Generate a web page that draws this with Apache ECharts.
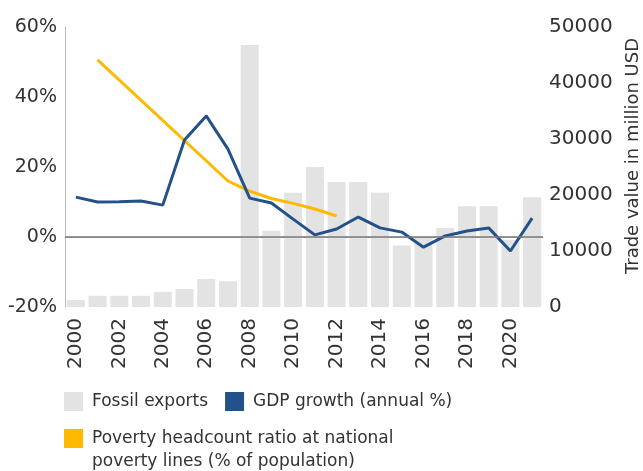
<!DOCTYPE html>
<html><head><meta charset="utf-8">
<script src="https://cdn.jsdelivr.net/npm/echarts@6/dist/echarts.min.js"></script>
<style>html,body{margin:0;padding:0;background:#fff}#c{width:643px;height:471px}</style>
</head><body><div id="c"></div>
<script>
const years = ['2000','2001','2002','2003','2004','2005','2006','2007','2008','2009','2010','2011','2012','2013','2014','2015','2016','2017','2018','2019','2020','2021'];
const fossilExports = [1250,2000,2000,2000,2700,3200,5000,4600,46800,13600,20400,25000,22300,22300,20400,11000,12300,14100,18000,18000,12000,19600];
const gdpGrowth = [11.4,10.0,10.1,10.3,9.1,27.7,34.6,25.1,11.1,9.7,5.1,0.6,2.3,5.7,2.6,1.4,-2.9,0.3,1.7,2.6,-4.0,5.4];
const poverty = [null,50.6,null,null,null,null,null,16.0,13.1,11.0,9.6,8.0,6.0,null,null,null,null,null,null,null,null,null];
const leftTicks = {min:-20,max:60,interval:20};
const rightTicks = {min:0,max:50000,interval:10000};
const names = ['Fossil exports','GDP growth (annual %)','Poverty headcount ratio at national'];
const povertyLine2 = 'poverty lines (% of population)';

const chart = echarts.init(document.getElementById('c'));
const font = "'DejaVu Sans',sans-serif";
const txt = '#333';
chart.setOption({
  animation:false,
  grid:{left:65,right:100,top:27,bottom:164,containLabel:false,outerBoundsMode:'none'},
  legend:[
    {data:[names[0],names[1]],left:64,top:392,padding:0,itemWidth:19,itemHeight:19,itemGap:17,icon:'rect',
     textStyle:{fontFamily:font,fontSize:17,color:txt,padding:[0,0,0,4]}},
    {data:[names[2]],left:64,top:429,padding:0,itemWidth:19,itemHeight:19,icon:'rect',
     textStyle:{fontFamily:font,fontSize:17,color:txt,padding:[0,0,0,4]}}
  ],
  graphic:[{type:'text',left:92,top:453,style:{text:povertyLine2,fontFamily:font,fontSize:17,fill:txt}}],
  xAxis:{type:'category',data:years,
    axisLine:{lineStyle:{color:'#bbb',width:1}},axisTick:{show:false},
    axisLabel:{rotate:90,interval:1,fontFamily:font,fontSize:20,color:txt,margin:11}},
  yAxis:[
    {type:'value',min:leftTicks.min,max:leftTicks.max,interval:leftTicks.interval,
     axisLine:{show:true,lineStyle:{color:'#bbb'}},axisTick:{show:false},splitLine:{show:false},
     axisLabel:{formatter:'{value}%',fontFamily:font,fontSize:19,color:txt,margin:8}},
    {type:'value',min:rightTicks.min,max:rightTicks.max,interval:rightTicks.interval,position:'right',
     axisLine:{show:false},axisTick:{show:false},splitLine:{show:false},
     name:'Trade value in million USD',nameLocation:'middle',nameGap:81,nameRotate:90,
     nameTextStyle:{fontFamily:font,fontSize:18,color:txt,padding:[0,0,0,22]},
     axisLabel:{formatter:function(v){return String(v);},fontFamily:font,fontSize:20,color:txt,margin:6}}
  ],
  series:[
    {name:names[0],type:'bar',yAxisIndex:1,data:fossilExports,barCategoryGap:'17%',
     itemStyle:{color:'#e3e3e3'}},
    {name:names[1],type:'line',yAxisIndex:0,data:gdpGrowth,showSymbol:false,symbol:'none',
     lineStyle:{color:'#23528a',width:3},itemStyle:{color:'#23528a'},z:4,
     markLine:{silent:true,symbol:'none',label:{show:false},lineStyle:{color:'#777',width:1.5,type:'solid'},data:[{yAxis:0}]}},
    {name:names[2],type:'line',yAxisIndex:0,data:poverty,connectNulls:true,showSymbol:false,symbol:'none',
     lineStyle:{color:'#ffb900',width:3},itemStyle:{color:'#ffb900'},z:3}
  ]
});
</script></body></html>
